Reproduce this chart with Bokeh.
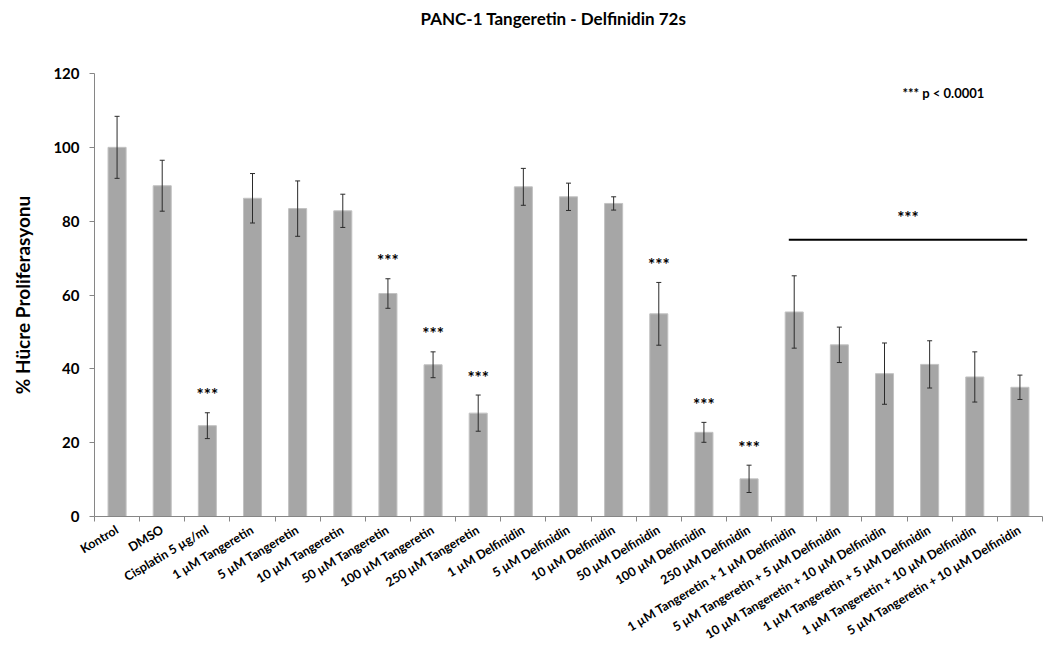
from bokeh.plotting import figure
from bokeh.models import FixedTicker, Range1d, Title
from bokeh.embed import file_html
from bokeh.resources import INLINE
from bokeh.core.properties import value

categories = [
    "Kontrol", "DMSO", "Cisplatin 5 µg/ml",
    "1 µM Tangeretin", "5 µM Tangeretin", "10 µM Tangeretin",
    "50 µM Tangeretin", "100 µM Tangeretin", "250 µM Tangeretin",
    "1 µM Delfinidin", "5 µM Delfinidin", "10 µM Delfinidin",
    "50 µM Delfinidin", "100 µM Delfinidin", "250 µM Delfinidin",
    "1 µM Tangeretin + 1 µM Delfinidin", "5 µM Tangeretin + 5 µM Delfinidin",
    "10 µM Tangeretin + 10 µM Delfinidin", "1 µM Tangeretin + 5 µM Delfinidin",
    "1 µM Tangeretin + 10 µM Delfinidin", "5 µM Tangeretin + 10 µM Delfinidin",
]
means = [100.0, 89.6, 24.6, 86.2, 83.4, 82.8, 60.4, 41.1, 28.0,
         89.3, 86.6, 84.8, 54.9, 22.8, 10.2,
         55.4, 46.5, 38.7, 41.2, 37.8, 35.0]
sds = [8.4, 6.9, 3.5, 6.7, 7.5, 4.5, 4.0, 3.5, 4.9,
       5.0, 3.7, 1.8, 8.5, 2.7, 3.7,
       9.8, 4.8, 8.3, 6.4, 6.8, 3.3]
star_bars = [2, 6, 7, 8, 12, 13, 14]
group_star_first, group_star_last = 15, 20
group_line_level = 75
y_ticks = [0, 20, 40, 60, 80, 100, 120]
title_text = "PANC-1 Tangeretin - Delfinidin 72s"
y_label = "% Hücre Proliferasyonu"
legend_note = "*** p < 0.0001"
legend_note_level = 114.7

FONT = "Lato"
AXIS_GREY = "#868686"

n = len(categories)
xs = [i + 0.5 for i in range(n)]
upper = [m + s for m, s in zip(means, sds)]
lower = [m - s for m, s in zip(means, sds)]

p = figure(width=1046, height=651, x_range=Range1d(0, n), y_range=Range1d(0, 120),
           output_backend="svg", toolbar_location=None,
           min_border_left=94, min_border_right=4, min_border_top=72, min_border_bottom=127)
p.outline_line_color = None
p.grid.grid_line_color = None
p.background_fill_color = "white"

spacer = Title(text=" ", text_font_size="25px")
p.add_layout(spacer, "above")
p.title.text = title_text
p.title.align = "left"
p.title.offset = 326
p.title.text_font = FONT
p.title.text_font_style = "bold"
p.title.text_font_size = "17px"
p.title.text_color = "black"

# bars
p.vbar(x=xs, top=means, width=0.4, bottom=0, fill_color="#a6a6a6", line_color="#c2c2c2", line_width=1)
# error bars
p.segment(x0=xs, y0=lower, x1=xs, y1=upper, line_color="#2b2b2b", line_width=1)
p.scatter(x=xs, y=upper, marker="dash", size=5, line_color="#2b2b2b", line_width=1)
p.scatter(x=xs, y=lower, marker="dash", size=5, line_color="#2b2b2b", line_width=1)

# significance stars
p.text(x=[xs[i] for i in star_bars], y=[upper[i] for i in star_bars], text=["***"] * len(star_bars),
       text_align="center", text_baseline="middle", y_offset=-18,
       text_font=value(FONT), text_font_style="bold", text_font_size="17px", text_color="black")

# group line + stars
gx0 = xs[group_star_first] - 0.12
gx1 = xs[group_star_last] + 0.16
p.line(x=[gx0, gx1], y=[group_line_level, group_line_level], line_color="black", line_width=2)
p.text(x=[(gx0 + gx1) / 2], y=[group_line_level], text=["***"], text_align="center",
       text_baseline="middle", y_offset=-22,
       text_font=value(FONT), text_font_style="bold", text_font_size="17px", text_color="black")

# p-value note
p.text(x=[xs[18] - 0.6], y=[legend_note_level], text=[legend_note], text_align="left",
       text_baseline="middle", text_font=value(FONT), text_font_style="bold",
       text_font_size="13px", text_color="black")

# y axis
yax = p.yaxis[0]
yax.ticker = FixedTicker(ticks=y_ticks)
yax.axis_line_color = AXIS_GREY
yax.major_tick_line_color = AXIS_GREY
yax.major_tick_out = 5
yax.major_tick_in = 0
yax.minor_tick_line_color = None
yax.major_label_text_font = FONT
yax.major_label_text_font_style = "bold"
yax.major_label_text_font_size = "15px"
yax.major_label_text_color = "black"
yax.major_label_standoff = 10
yax.axis_label = y_label
yax.axis_label_text_font = FONT
yax.axis_label_text_font_style = "bold"
yax.axis_label_text_font_size = "19px"
yax.axis_label_text_color = "black"
yax.axis_label_standoff = 16

# x axis
xax = p.xaxis[0]
xax.ticker = FixedTicker(ticks=xs, minor_ticks=list(range(n + 1)))
xax.major_label_overrides = {x: c for x, c in zip(xs, categories)}
xax.axis_line_color = AXIS_GREY
xax.major_tick_line_color = None
xax.major_tick_out = 0
xax.major_tick_in = 0
xax.minor_tick_line_color = AXIS_GREY
xax.minor_tick_out = 5
xax.minor_tick_in = 0
xax.major_label_orientation = 0.54
xax.major_label_text_font = FONT
xax.major_label_text_font_style = "bold"
xax.major_label_text_font_size = "12.5px"
xax.major_label_text_color = "black"
xax.major_label_standoff = 7

open("out.html", "w").write(file_html(p, INLINE))
